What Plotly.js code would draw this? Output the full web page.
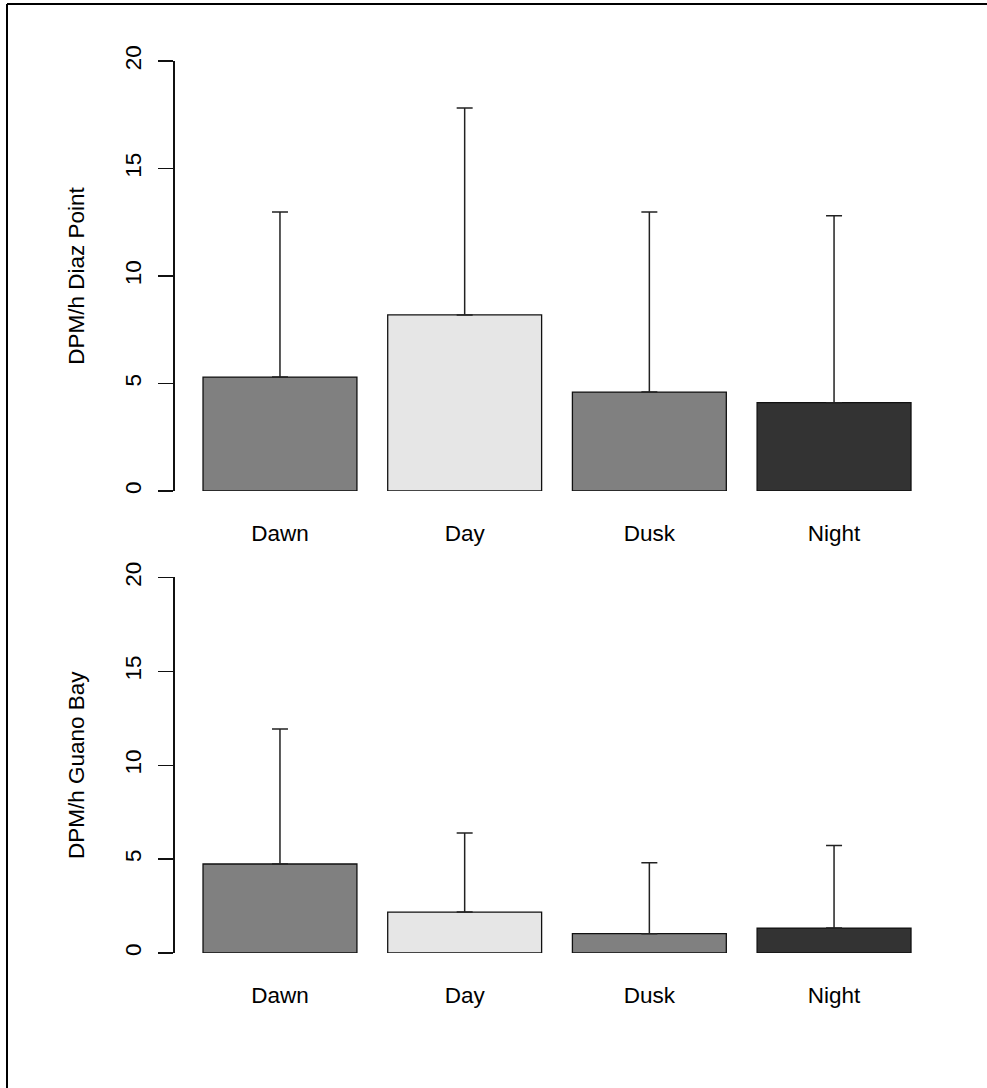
<!DOCTYPE html>
<html>
<head>
<meta charset="utf-8">
<script src="https://cdn.plot.ly/plotly-3.0.1.min.js"></script>
<style>html,body{margin:0;padding:0;background:#fff;}</style>
</head>
<body>
<div id="chart" style="width:987px;height:1088px;"></div>
<script>
// Data
var categories = ["Dawn", "Day", "Dusk", "Night"];
var positions = [0.7, 1.9, 3.1, 4.3];
var diazMean = [5.30, 8.19, 4.60, 4.11];
var diazSD = [7.68, 9.62, 8.38, 8.69];
var guanoMean = [4.74, 2.18, 1.03, 1.33];
var guanoSD = [7.19, 4.21, 3.78, 4.39];
var barColors = ["#808080", "#e6e6e6", "#808080", "#333333"];
var yTicks = [0, 5, 10, 15, 20];
var yTitles = ["DPM/h Diaz Point", "DPM/h Guano Bay"];

var FONT = "Arial, 'Liberation Sans', sans-serif";
var FS = 22.5;
var zeros = categories.map(function(){ return 0; });

function barTrace(means, sds, xa, ya) {
  return {
    type: "bar",
    x: positions,
    y: means,
    width: 1,
    xaxis: xa,
    yaxis: ya,
    marker: { color: barColors, line: { color: "#111111", width: 1.3 } },
    error_y: {
      type: "data", symmetric: false, array: sds, arrayminus: zeros,
      visible: true, color: "#222222", thickness: 1.5, width: 8
    },
    hoverinfo: "skip",
    showlegend: false
  };
}

var data = [
  barTrace(diazMean, diazSD, "x", "y"),
  barTrace(guanoMean, guanoSD, "x2", "y2")
];

function xaxisDef(anchor) {
  return {
    domain: [0.1770, 0.9517],
    range: [0.016, 4.984],
    anchor: anchor,
    tickmode: "array",
    tickvals: positions,
    ticktext: categories,
    ticks: "",
    showline: false,
    showgrid: false,
    zeroline: false,
    ticklabelstandoff: 26,
    tickfont: { family: FONT, size: FS, color: "#000" },
    fixedrange: true
  };
}
function yaxisDef(domain, anchor, title) {
  return {
    domain: domain,
    range: [0, 20],
    anchor: anchor,
    tickmode: "array",
    tickvals: yTicks,
    ticktext: yTicks.map(String),
    ticks: "outside",
    ticklen: 15,
    tickwidth: 1.3,
    tickcolor: "#111111",
    tickangle: -90,
    ticklabelstandoff: 8,
    showline: true,
    linecolor: "#111111",
    linewidth: 1.3,
    showgrid: false,
    zeroline: false,
    tickfont: { family: FONT, size: FS, color: "#000" },
    title: { text: title, font: { family: FONT, size: FS, color: "#000" }, standoff: 30 },
    fixedrange: true
  };
}

var layout = {
  width: 987,
  height: 1088,
  margin: { l: 0, r: 0, t: 0, b: 0 },
  paper_bgcolor: "#ffffff",
  plot_bgcolor: "rgba(0,0,0,0)",
  bargap: 0,
  xaxis: xaxisDef("y"),
  yaxis: yaxisDef([0.54871, 0.94393], "x", yTitles[0]),
  xaxis2: xaxisDef("y2"),
  yaxis2: yaxisDef([0.12408, 0.46921], "x2", yTitles[1]),
  shapes: [
    { type: "line", xref: "paper", yref: "paper", x0: 7/987, x1: 1, y0: 1 - 4/1088, y1: 1 - 4/1088, line: { color: "#000", width: 2 } },
    { type: "line", xref: "paper", yref: "paper", x0: 7/987, x1: 7/987, y0: 0, y1: 1 - 4/1088, line: { color: "#000", width: 2 } }
  ]
};

Plotly.newPlot("chart", data, layout, { displayModeBar: false, staticPlot: true });
</script>
</body>
</html>
